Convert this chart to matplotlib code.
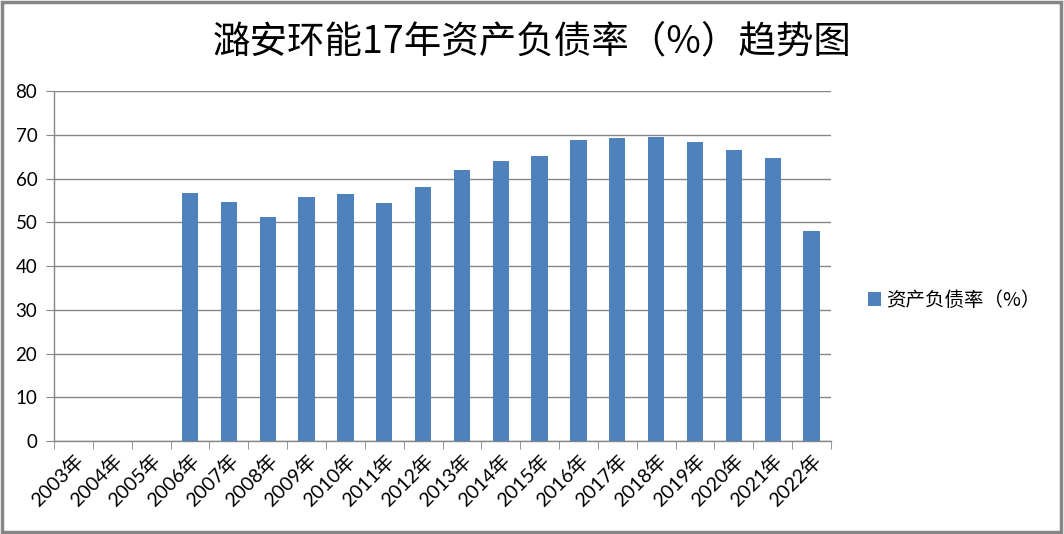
import matplotlib
matplotlib.use("Agg")
import matplotlib.pyplot as plt
import numpy as np
from matplotlib.patches import Rectangle

plt.rcParams['font.family'] = ['Lato', 'Noto Sans CJK SC', 'DejaVu Sans']

years = ["2003年", "2004年", "2005年", "2006年", "2007年", "2008年", "2009年",
         "2010年", "2011年", "2012年", "2013年", "2014年", "2015年", "2016年",
         "2017年", "2018年", "2019年", "2020年", "2021年", "2022年"]
ratio = [np.nan, np.nan, np.nan, 56.8, 54.6, 51.2, 55.8, 56.5, 54.4, 58.1,
         62.0, 64.0, 65.2, 68.8, 69.3, 69.5, 68.4, 66.5, 64.7, 48.0]
series_name = "资产负债率（%）"
title = "潞安环能17年资产负债率（%）趋势图"
yticks = [0, 10, 20, 30, 40, 50, 60, 70, 80]

W, H = 1064, 534
fig = plt.figure(figsize=(W / 100, H / 100), dpi=100)
fig.patch.set_facecolor('white')
# outer border
fig.patches.append(Rectangle((0.002, 0.004), 0.995, 0.992, transform=fig.transFigure,
                             fill=False, edgecolor='#868686', linewidth=2.5))

ax = fig.add_axes([54 / W, 1 - 441 / H, (831 - 54) / W, (441 - 91.3) / H])
x = np.arange(len(years))
bars = ax.bar(x, ratio, width=0.42, color='#4F81BD', label=series_name, zorder=3)

ax.set_xlim(-0.5, len(years) - 0.5)
ax.set_ylim(0, 80)
ax.set_yticks(yticks)
ax.set_yticklabels([str(v) for v in yticks], fontsize=13.5, color='black')
ax.yaxis.grid(True, color='#868686', linewidth=1.0, zorder=0)

ax.set_xticks(x)
ax.set_xticklabels(years, rotation=45, ha='right', va='top', rotation_mode='anchor',
                   fontsize=14, color='black')
ax.set_xticks(np.arange(-0.5, len(years), 1.0), minor=True)
ax.tick_params(axis='x', which='major', length=0, pad=7)
ax.tick_params(axis='x', which='minor', length=6, color='#868686', direction='out')
ax.tick_params(axis='y', which='major', length=6, color='#868686', direction='out', pad=6)

for s in ['top', 'right']:
    ax.spines[s].set_visible(False)
for s in ['left', 'bottom']:
    ax.spines[s].set_color('#868686')
    ax.spines[s].set_linewidth(1.0)

fig.text(0.5, 1 - 42 / H, title, ha='center', va='center', fontsize=27,
         family=['Noto Sans CJK SC', 'DejaVu Sans'], color='black')

fig.legend(handles=[bars], labels=[series_name], loc='center left',
           bbox_to_anchor=(850 / W, 1 - 300 / H), frameon=False,
           handlelength=0.7, handleheight=0.7, handletextpad=0.25,
           prop={'family': ['Noto Sans CJK SC', 'DejaVu Sans'], 'size': 14})

fig.savefig('out.png', dpi=100, facecolor='white')
